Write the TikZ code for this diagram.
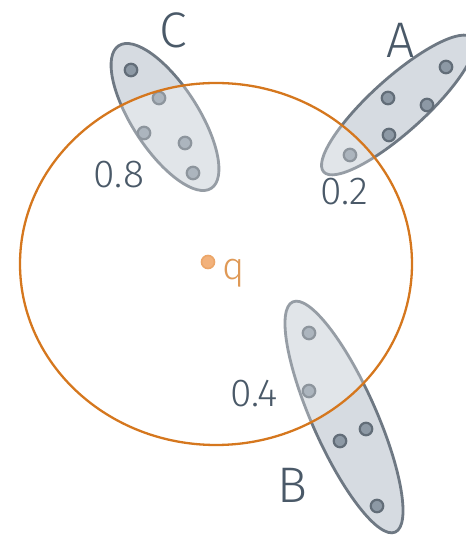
\documentclass[tikz,border=0pt]{standalone}
\usepackage{fontspec}
\setmainfont{Fira Sans Light}
\usetikzlibrary{shapes.geometric}
\definecolor{ora}{HTML}{D5771E}
\definecolor{oralt}{HTML}{F2B27C}
\definecolor{txt}{HTML}{4A5968}
\definecolor{efill}{HTML}{D6DBE1}
\definecolor{estroke}{HTML}{6E7883}
\definecolor{dfill}{HTML}{8D99A5}
\definecolor{dstroke}{HTML}{626D78}
\tikzset{
  grp/.style={ellipse, draw=estroke, fill=efill, line width=2.8pt, inner sep=0pt},
  pt/.style={circle, draw=dstroke, fill=dfill, line width=2.2pt, minimum size=12.5pt, inner sep=0pt},
  big/.style={text=txt, font=\fontsize{50}{50}\selectfont, inner sep=0pt},
  num/.style={text=txt, font=\fontsize{39}{39}\selectfont, inner sep=0pt},
}
\begin{document}
\begin{tikzpicture}[x=1pt,y=1pt]
\useasboundingbox (0,0) rectangle (465,537);
% groups
\node[grp, minimum width=170pt, minimum height=66pt, rotate=-57] (gC) at (165,420) {};
\node[grp, minimum width=200pt, minimum height=54pt, rotate=42] (gA) at (398,432) {};
\node[grp, minimum width=252pt, minimum height=64pt, rotate=-66] (gB) at (344,120) {};
% points
\node[pt] (c1) at (131,467) {};
\node[pt] (c2) at (159,439) {};
\node[pt] (c3) at (144,404) {};
\node[pt] (c4) at (185,394) {};
\node[pt] (c5) at (193,364) {};
\node[pt] (a1) at (446,470) {};
\node[pt] (a2) at (388,439) {};
\node[pt] (a3) at (427,432) {};
\node[pt] (a4) at (389,402) {};
\node[pt] (a5) at (350,382) {};
\node[pt] (b1) at (309,204) {};
\node[pt] (b2) at (309,146) {};
\node[pt] (b3) at (340,96) {};
\node[pt] (b4) at (366,108) {};
\node[pt] (b5) at (377,31) {};
% lighten inside the range circle
\begin{scope}
  \clip (216,273) ellipse [x radius=196, y radius=181];
  \fill[white, opacity=0.28] (0,0) rectangle (465,537);
\end{scope}
% range
\draw[ora, line width=2.3pt] (216,273) ellipse [x radius=196, y radius=181];
\node[circle, draw=oralt!80!ora, fill=oralt, line width=1.6pt, minimum size=13pt, inner sep=0pt] (q) at (208,275) {};
\node[text=ora!75!white, font=\fontsize{38}{38}\selectfont, inner sep=0pt] (ql) at (234,264) {q};
% labels
\node[big] (lC) at (173,507) {C};
\node[big] (lA) at (401,497) {A};
\node[big] (lB) at (292,52) {B};
\node[num] (n8) at (119,362) {0.8};
\node[num] (n2) at (344,345) {0.2};
\node[num] (n4) at (254,143) {0.4};
\end{tikzpicture}
\end{document}
